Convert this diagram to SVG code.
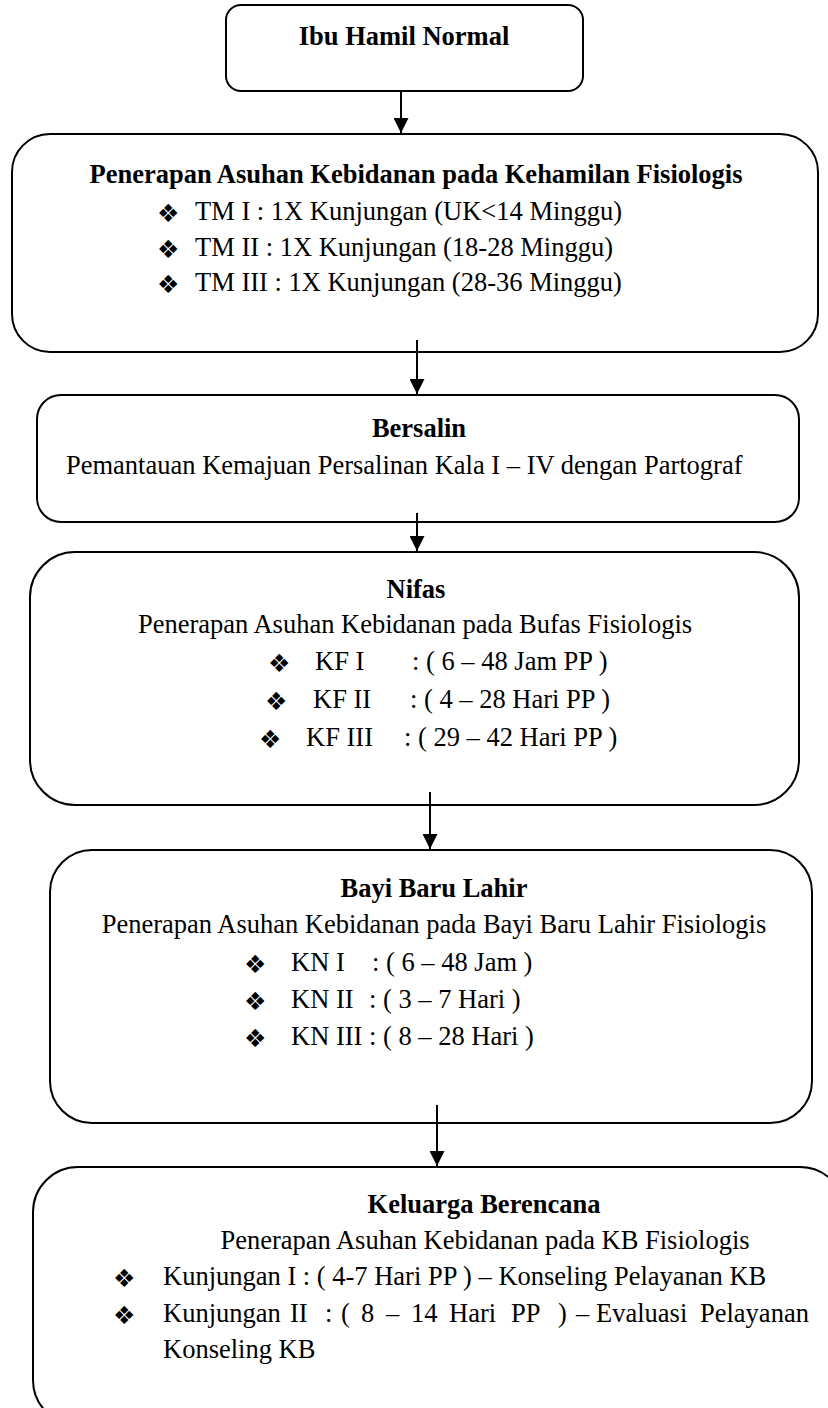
<svg xmlns="http://www.w3.org/2000/svg" width="828" height="1408" viewBox="0 0 828 1408">
<style>
.box{fill:#fff;stroke:#000;stroke-width:2}
.t{font-family:"Liberation Serif","Times New Roman",serif;font-size:26.5px;fill:#000}
.b{font-weight:bold}
.c{text-anchor:middle}
.bl{font-family:"DejaVu Sans",sans-serif;font-size:25px;fill:#000}
.cn{stroke:#000;stroke-width:2;fill:none}
</style>
<defs>
<marker id="ah" viewBox="0 0 10 10" refX="10" refY="5" markerWidth="7.5" markerHeight="7.5" markerUnits="strokeWidth" orient="auto">
<path d="M0,0 L10,5 L0,10 z" fill="#000"/>
</marker>
</defs>
<rect width="828" height="1408" fill="#fff"/>
<g id="n1">
<rect class="box" x="226" y="5" width="357" height="86" rx="15"/>
<text class="t b c" x="404" y="45">Ibu Hamil Normal</text>
</g>
<g id="n2">
<rect class="box" x="12" y="134" width="806" height="218" rx="38"/>
<text class="t b c" x="416" y="183">Penerapan Asuhan Kebidanan pada Kehamilan Fisiologis</text>
<text class="bl" x="157" y="222">❖</text><text class="t" x="195" y="220">TM I : 1X Kunjungan (UK&lt;14 Minggu)</text>
<text class="bl" x="157" y="258">❖</text><text class="t" x="195" y="256">TM II : 1X Kunjungan (18-28 Minggu)</text>
<text class="bl" x="157" y="293">❖</text><text class="t" x="195" y="291">TM III : 1X Kunjungan (28-36 Minggu)</text>
</g>
<g id="n3">
<rect class="box" x="37" y="395" width="762" height="127" rx="24"/>
<text class="t b c" x="419" y="437">Bersalin</text>
<text class="t" x="66" y="474">Pemantauan Kemajuan Persalinan Kala I – IV dengan Partograf</text>
</g>
<g id="n4">
<rect class="box" x="30" y="552" width="769" height="253" rx="45"/>
<text class="t b c" x="416" y="598">Nifas</text>
<text class="t c" x="415" y="633">Penerapan Asuhan Kebidanan pada Bufas Fisiologis</text>
<text class="bl" x="268" y="672">❖</text><text class="t" x="315" y="670">KF I</text><text class="t" x="412" y="670">: ( 6 – 48 Jam PP )</text>
<text class="bl" x="265" y="710">❖</text><text class="t" x="313" y="708">KF II</text><text class="t" x="410" y="708">: ( 4 – 28 Hari PP )</text>
<text class="bl" x="259" y="748">❖</text><text class="t" x="306" y="746">KF III</text><text class="t" x="404" y="746">: ( 29 – 42 Hari PP )</text>
</g>
<g id="n5">
<rect class="box" x="50" y="850" width="762" height="273" rx="42"/>
<text class="t b c" x="434" y="897">Bayi Baru Lahir</text>
<text class="t c" x="434" y="933">Penerapan Asuhan Kebidanan pada Bayi Baru Lahir Fisiologis</text>
<text class="bl" x="244" y="973">❖</text><text class="t" x="291" y="971">KN I</text><text class="t" x="372" y="971">: ( 6 – 48 Jam )</text>
<text class="bl" x="244" y="1010">❖</text><text class="t" x="291" y="1008">KN II</text><text class="t" x="369" y="1008">: ( 3 – 7 Hari )</text>
<text class="bl" x="244" y="1047">❖</text><text class="t" x="291" y="1045">KN III : ( 8 – 28 Hari )</text>
</g>
<g id="n6">
<rect class="box" x="33" y="1167" width="812" height="258" rx="45"/>
<text class="t b c" x="484" y="1213">Keluarga Berencana</text>
<text class="t c" x="485" y="1249">Penerapan Asuhan Kebidanan pada KB Fisiologis</text>
<text class="bl" x="113" y="1287">❖</text><text class="t" x="163" y="1285">Kunjungan I : ( 4-7 Hari PP ) – Konseling Pelayanan KB</text>
<text class="bl" x="113" y="1324">❖</text><text class="t" y="1322"><tspan x="163">Kunjungan</tspan><tspan x="290">II</tspan><tspan x="325">:</tspan><tspan x="341">(</tspan><tspan x="361">8</tspan><tspan x="386">–</tspan><tspan x="411">14</tspan><tspan x="449">Hari</tspan><tspan x="511">PP</tspan><tspan x="558">)</tspan><tspan x="576">–</tspan><tspan x="596">Evaluasi</tspan><tspan x="700">Pelayanan</tspan></text>
<text class="t" x="163" y="1358">Konseling KB</text>
</g>
<g id="connectors">
<line class="cn" x1="401" y1="91" x2="401" y2="133" marker-end="url(#ah)"/>
<line class="cn" x1="417" y1="340" x2="417" y2="394" marker-end="url(#ah)"/>
<line class="cn" x1="417" y1="513" x2="417" y2="551" marker-end="url(#ah)"/>
<line class="cn" x1="430" y1="792" x2="430" y2="849" marker-end="url(#ah)"/>
<line class="cn" x1="437" y1="1105" x2="437" y2="1166" marker-end="url(#ah)"/>
</g>
</svg>
